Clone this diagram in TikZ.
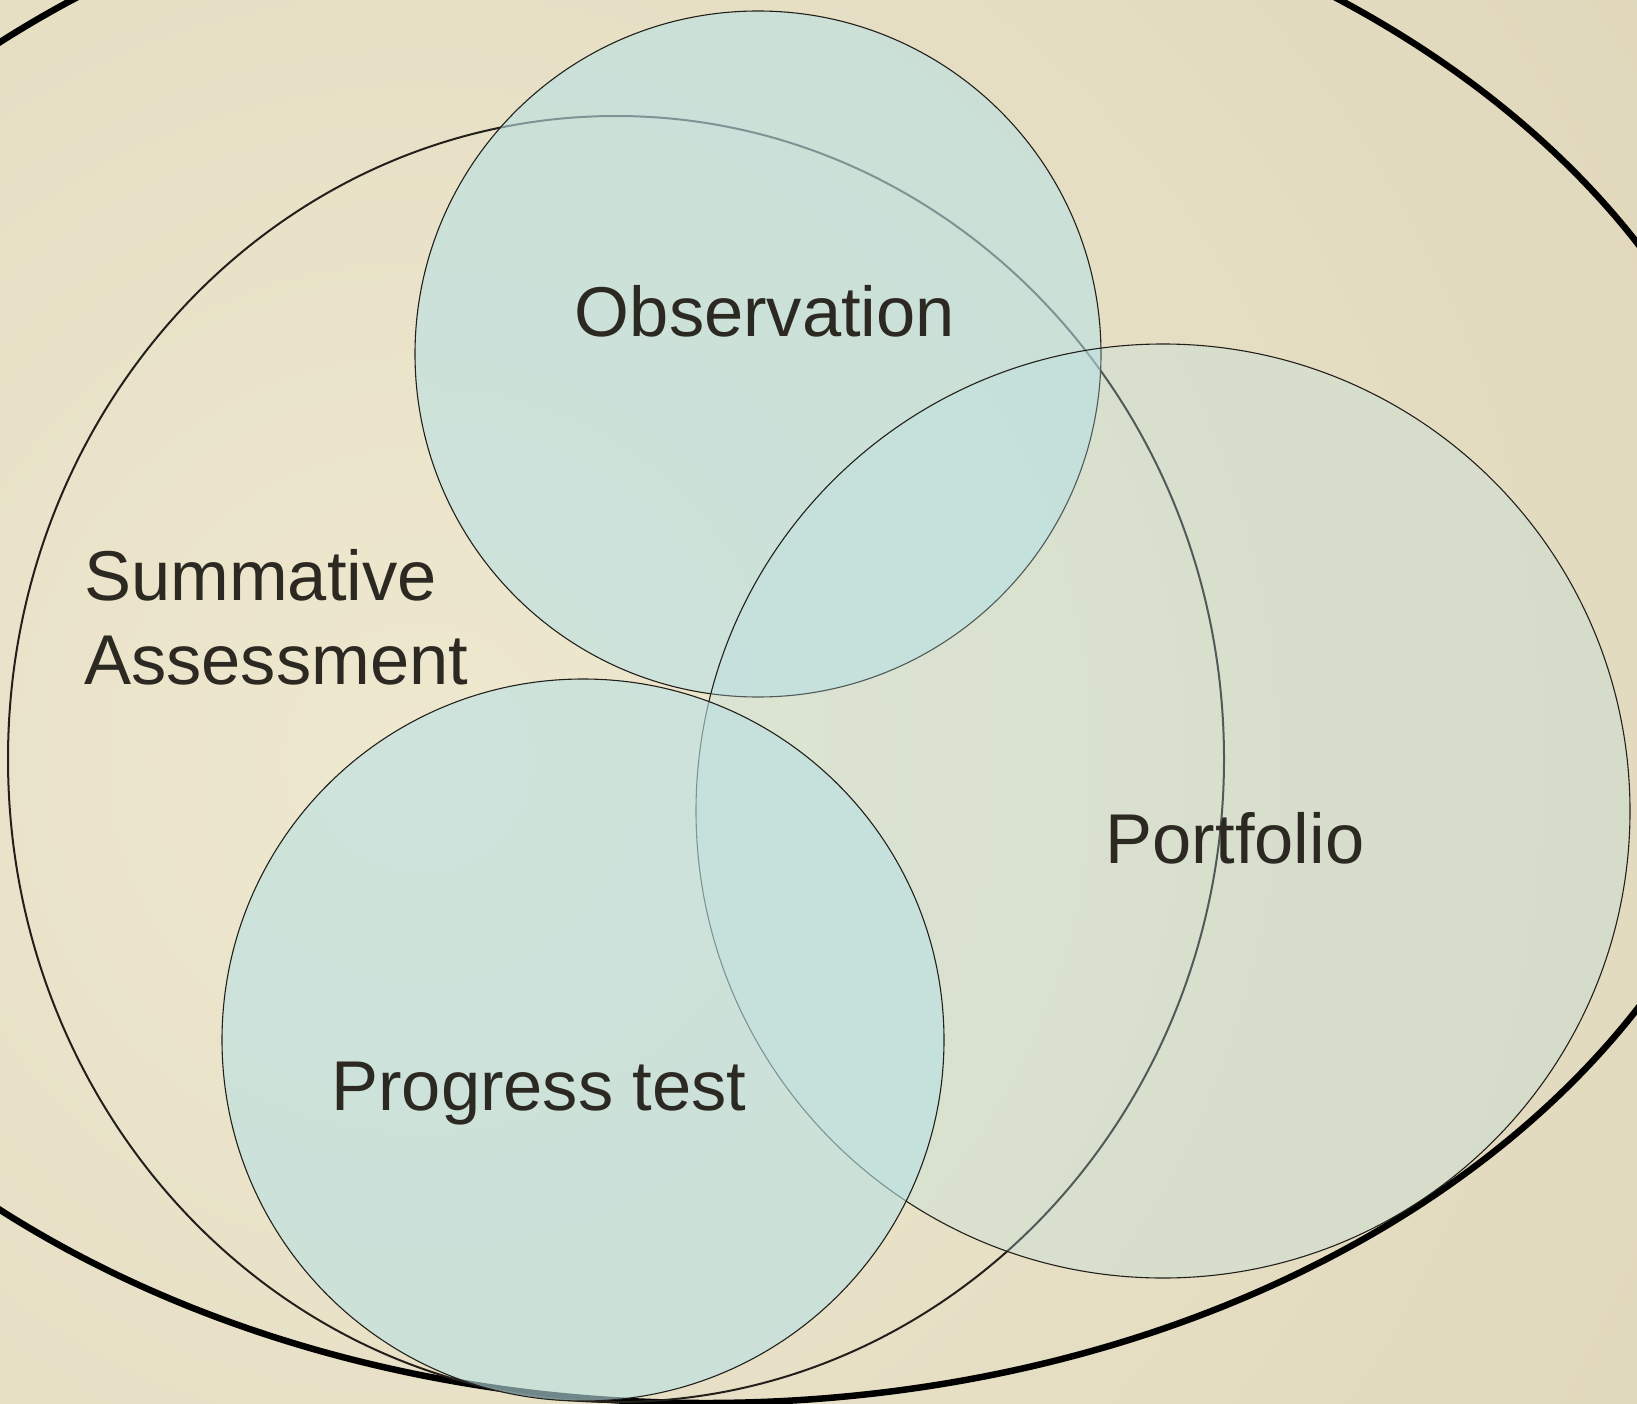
\documentclass[tikz,border=0pt]{standalone}
\usepackage{fontspec}
\setmainfont{Liberation Sans}
\definecolor{bglight}{RGB}{238,232,207}
\definecolor{bgdark}{RGB}{221,212,183}
\definecolor{venn}{RGB}{185,225,228}
\definecolor{ink}{RGB}{44,40,34}
\definecolor{edge}{RGB}{35,32,28}
\begin{document}
\begin{tikzpicture}[x=1pt,y=-1pt,
  vtext/.style={font=\fontsize{70.5}{84}\selectfont, text=ink, inner sep=0pt},
  setline/.style={draw=edge, line width=1.1pt},
  setfill/.style={fill=venn, fill opacity=0.6},
  setfilllight/.style={fill=venn, fill opacity=0.3}]
\useasboundingbox (0,0) rectangle (1637,1404);
\begin{scope}
  \clip (0,0) rectangle (1637,1404);
  \fill[bgdark] (0,0) rectangle (1637,1404);
  \shade[inner color=bglight, outer color=bgdark] (420,760) circle[radius=1800pt];
  % outer frame ellipse
  \draw[line width=6.5pt, black] (706,626) ellipse[x radius=1070pt, y radius=777pt];
  % summative assessment
  \draw[line width=2pt, edge] (616,759) ellipse[x radius=608pt, y radius=643pt];
  % observation
  \draw[setline, setfill] (758,354) circle[radius=343pt];
  % portfolio
  \draw[setline, setfilllight] (1163,811) circle[radius=467pt];
  % progress test
  \draw[setline, setfill] (583,1040) circle[radius=361pt];
\end{scope}
\node[vtext, anchor=base] (obs) at (765,336) {Observation};
\node[vtext, anchor=base west] (sum1) at (84,600) {Summative};
\node[vtext, anchor=base west] (sum2) at (84,684) {Assessment};
\node[vtext, anchor=base] (port) at (1235,863) {Portfolio};
\node[vtext, anchor=base] (prog) at (539,1110) {Progress test};
\end{tikzpicture}
\end{document}
